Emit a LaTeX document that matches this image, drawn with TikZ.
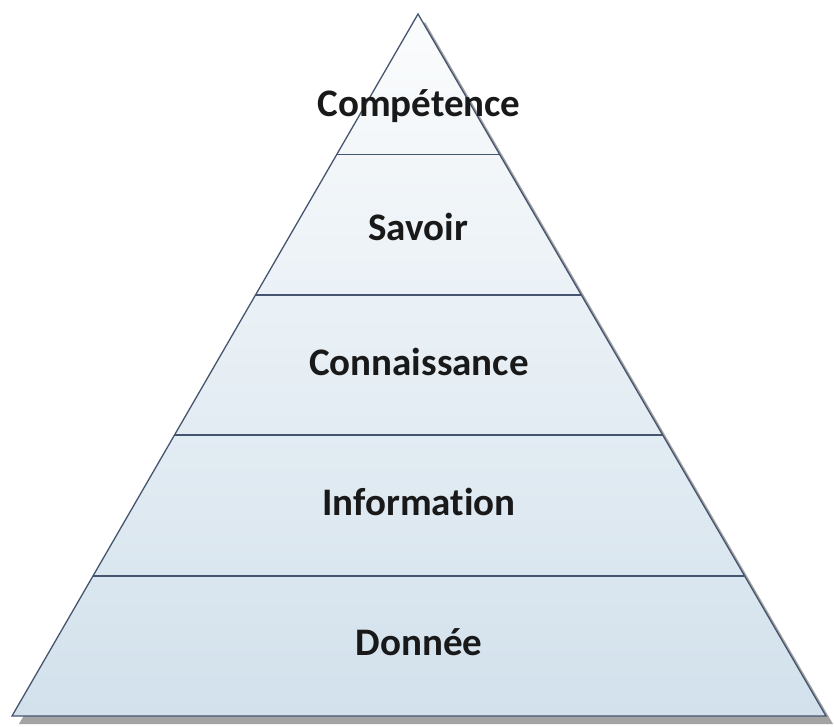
\documentclass[tikz,border=0pt]{standalone}
\usepackage{fontspec}
\setmainfont{Carlito}[Ligatures=NoCommon]
\usetikzlibrary{calc}
\definecolor{edgeblue}{HTML}{46556F}
\definecolor{topfill}{HTML}{FBFCFD}
\definecolor{botfill}{HTML}{D2E1EC}
\definecolor{shadowgray}{HTML}{A3A3A3}
\tikzset{
  tierlabel/.style={font=\bfseries\fontsize{39}{46}\selectfont, text=black!90, inner sep=0pt, anchor=center},
  sepline/.style={draw=edgeblue, line width=1.8pt},
  outline/.style={draw=edgeblue, line width=1.3pt, line join=miter},
}
\begin{document}
\begin{tikzpicture}[x=1pt,y=-1pt]
\useasboundingbox (0,0) rectangle (834,726);
\coordinate (A) at (418,14);
\coordinate (BL) at (12,716);
\coordinate (BR) at (826,716);
% shadow
\fill[shadowgray] ($(A)+(7,8)$) -- ($(BR)+(7,8)$) -- ($(BL)+(7,8)$) -- cycle;
% body
\shade[top color=topfill, bottom color=botfill] (A) -- (BR) -- (BL) -- cycle;
% separators
\foreach \t [count=\i] in {0.2,0.4,0.6,0.8} {
  \coordinate (L\i) at ($(A)!\t!(BL)$);
  \coordinate (R\i) at ($(A)!\t!(BR)$);
}
\draw[sepline] (L1) -- (R1);
\draw[sepline] (L2) -- (R2);
\draw[sepline] (L3) -- (R3);
\draw[sepline] (L4) -- (R4);
\draw[outline] (A) -- (BR) -- (BL) -- cycle;
% labels
\node[tierlabel] (t1) at (419,106) {Compétence};
\node[tierlabel] (t2) at (418,227) {Savoir};
\node[tierlabel] (t3) at (419,362) {Connaissance};
\node[tierlabel] (t4) at (419,502) {Information};
\node[tierlabel] (t5) at (419,642) {Donnée};
\end{tikzpicture}
\end{document}
